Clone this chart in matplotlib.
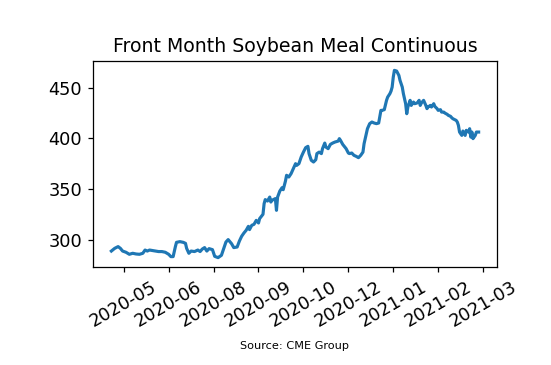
import matplotlib
matplotlib.use("Agg")
import matplotlib.pyplot as plt
import matplotlib.dates as mdates
import pandas as pd

# front month soybean meal settle ($/short ton)
dates = [
    "2020-05-04", "2020-05-07", "2020-05-10", "2020-05-12", "2020-05-14", "2020-05-17",
    "2020-05-20", "2020-05-23", "2020-05-26", "2020-05-29", "2020-06-01", "2020-06-03",
    "2020-06-05", "2020-06-07", "2020-06-10", "2020-06-12", "2020-06-15", "2020-06-18",
    "2020-06-21", "2020-06-24", "2020-06-26", "2020-06-28", "2020-06-30", "2020-07-01",
    "2020-07-04", "2020-07-07", "2020-07-09", "2020-07-10", "2020-07-12", "2020-07-14",
    "2020-07-17", "2020-07-20", "2020-07-22", "2020-07-24", "2020-07-26", "2020-07-28",
    "2020-07-30", "2020-08-02", "2020-08-04", "2020-08-07", "2020-08-10", "2020-08-12",
    "2020-08-14", "2020-08-16", "2020-08-19", "2020-08-21", "2020-08-24", "2020-08-26",
    "2020-08-28", "2020-08-30", "2020-09-01", "2020-09-03", "2020-09-04", "2020-09-06",
    "2020-09-08", "2020-09-10", "2020-09-12", "2020-09-13", "2020-09-16", "2020-09-17",
    "2020-09-18", "2020-09-20", "2020-09-22", "2020-09-23", "2020-09-24", "2020-09-27",
    "2020-09-28", "2020-09-29", "2020-10-01", "2020-10-03", "2020-10-04", "2020-10-06",
    "2020-10-07", "2020-10-09", "2020-10-11", "2020-10-13", "2020-10-15", "2020-10-16",
    "2020-10-18", "2020-10-20", "2020-10-22", "2020-10-24", "2020-10-26", "2020-10-27",
    "2020-10-29", "2020-10-31", "2020-11-02", "2020-11-03", "2020-11-05", "2020-11-07",
    "2020-11-08", "2020-11-10", "2020-11-11", "2020-11-13", "2020-11-15", "2020-11-17",
    "2020-11-19", "2020-11-22", "2020-11-23", "2020-11-24", "2020-11-26", "2020-11-29",
    "2020-12-01", "2020-12-02", "2020-12-04", "2020-12-06", "2020-12-08", "2020-12-10",
    "2020-12-12", "2020-12-14", "2020-12-15", "2020-12-17", "2020-12-18", "2020-12-20",
    "2020-12-22", "2020-12-24", "2020-12-26", "2020-12-28", "2020-12-30", "2020-12-31",
    "2021-01-02", "2021-01-04", "2021-01-05", "2021-01-07", "2021-01-08", "2021-01-09",
    "2021-01-10", "2021-01-11", "2021-01-13", "2021-01-15", "2021-01-16", "2021-01-18",
    "2021-01-19", "2021-01-21", "2021-01-22", "2021-01-23", "2021-01-25", "2021-01-26",
    "2021-01-28", "2021-01-29", "2021-01-31", "2021-02-01", "2021-02-02", "2021-02-03",
    "2021-02-04", "2021-02-06", "2021-02-08", "2021-02-09", "2021-02-10", "2021-02-12",
    "2021-02-13", "2021-02-15", "2021-02-16", "2021-02-18", "2021-02-19", "2021-02-21",
    "2021-02-22", "2021-02-24", "2021-02-25", "2021-02-27", "2021-02-28", "2021-03-02",
    "2021-03-03", "2021-03-04", "2021-03-07", "2021-03-08", "2021-03-09", "2021-03-10",
    "2021-03-12", "2021-03-13", "2021-03-15", "2021-03-16", "2021-03-18", "2021-03-19",
    "2021-03-20", "2021-03-21", "2021-03-22", "2021-03-24", "2021-03-25", "2021-03-27",
]
prices = [
    288.7, 291.4, 293.1, 291.4, 288.7, 287.5,
    285.5, 286.5, 285.8, 285.5, 286.5, 289.7,
    288.7, 289.7, 289.1, 288.7, 288.2, 288.2,
    287.5, 285.5, 283.2, 283.2, 293.1, 297.3,
    298.0, 297.3, 296.3, 291.4, 286.5, 288.7,
    288.2, 289.7, 288.2, 290.7, 292.1, 288.7,
    291.1, 290.1, 283.5, 282.2, 284.5, 291.1,
    297.6, 300.0, 296.0, 292.1, 292.7, 298.6,
    303.3, 306.5, 309.2, 313.1, 309.9, 314.1,
    315.1, 319.0, 316.4, 320.7, 325.0, 335.5,
    339.5, 338.1, 342.0, 337.1, 338.8, 340.5,
    328.9, 342.0, 348.0, 351.3, 349.3, 357.8,
    363.5, 361.8, 365.1, 370.1, 375.0, 373.3,
    375.0, 381.5, 386.4, 390.8, 392.1, 384.9,
    378.3, 376.6, 378.9, 384.9, 386.4, 384.9,
    389.8, 395.3, 391.4, 389.8, 394.0, 395.3,
    396.3, 397.3, 399.7, 398.0, 394.0, 389.8,
    385.5, 384.9, 385.5, 383.2, 382.2, 380.9,
    383.2, 386.4, 394.7, 404.6, 409.5, 414.5,
    416.1, 415.1, 414.5, 415.1, 427.6, 427.6,
    428.3, 437.5, 440.7, 444.1, 446.6, 450.6,
    460.5, 467.1, 466.4, 462.1, 457.2, 450.6,
    444.1, 434.2, 424.3, 430.9, 437.5, 432.5,
    435.8, 434.2, 434.8, 435.8, 437.5, 432.5,
    434.8, 437.5, 432.5, 429.3, 430.9, 432.5,
    430.9, 434.2, 431.5, 429.3, 427.6, 428.3,
    425.9, 425.9, 424.9, 423.7, 422.7, 421.7,
    420.4, 419.4, 417.7, 416.1, 412.8, 406.2,
    402.9, 407.2, 402.9, 407.9, 406.2, 409.5,
    401.2, 406.2, 399.7, 402.9, 406.2, 406.2,
]

tick_dates = ["2020-05-15", "2020-06-24", "2020-08-03", "2020-09-12", "2020-10-22",
              "2020-12-01", "2021-01-10", "2021-02-19", "2021-03-31"]

df = pd.DataFrame({"date": pd.to_datetime(dates), "price": prices})

fig = plt.figure(figsize=(551 / 113, 365 / 113), dpi=113)
ax = fig.add_axes([93 / 551, 1 - 267 / 365, 404 / 551, 206 / 365])

ax.plot(df["date"], df["price"], color="#1f77b4", linewidth=2)
ax.set_title("Front Month Soybean Meal Continuous", fontsize=12)

ax.set_xticks(pd.to_datetime(tick_dates))
ax.xaxis.set_major_formatter(mdates.DateFormatter("%Y-%m"))
ax.set_yticks([300, 350, 400, 450])
ax.tick_params(labelsize=11.3)
plt.setp(ax.get_xticklabels(), rotation=30)

fig.text(295 / 551, 1 - 346 / 365, "Source: CME Group", ha="center", va="center", fontsize=7.2)

fig.savefig("out.png", dpi=113)
